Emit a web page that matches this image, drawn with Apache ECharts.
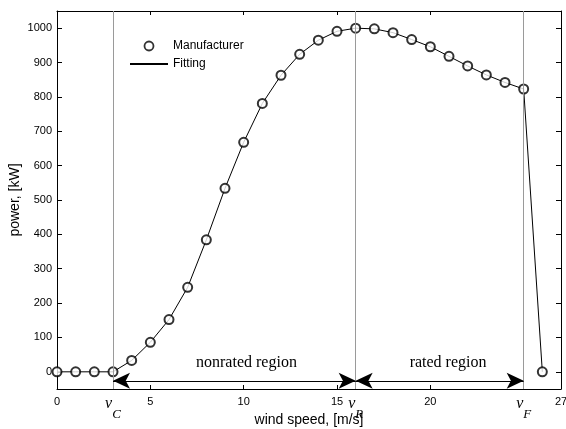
<!DOCTYPE html>
<html>
<head>
<meta charset="utf-8">
<script src="https://cdn.jsdelivr.net/npm/echarts@6/dist/echarts.min.js"></script>
<style>html,body{margin:0;padding:0;background:#fff}#c{width:566px;height:429px}</style>
</head>
<body>
<div id="c"></div>
<script>
const windSpeed = [0,1,2,3,4,5,6,7,8,9,10,11,12,13,14,15,16,17,18,19,20,21,22,23,24,25,26];
const power = [0,0,0,0,33,86,152,246,384,534,668,781,863,924,965,991,1000,998,987,967,946,918,890,864,842,823,0];
const xTicks = [0,3,5,10,15,16,20,25,27];
const xTickLabels = ['0','{v|v}{s|C}','5','10','15','{v|v}{s|R}','20','{v|v}{s|F}','27'];
const yTicks = [0,100,200,300,400,500,600,700,800,900,1000];
const regionLines = [3,16,25];
const regionArrows = [[3,16],[16,25]];
const regionNames = ['nonrated region','rated region'];
const regionLabelX = [10.15,20.95];
const arrowY = -26;
const labelY = 27;

const pts = windSpeed.map((x,i)=>[x,power[i]]);
const sans = 'Liberation Sans, Arial, sans-serif';
const serif = 'Liberation Serif, Times New Roman, serif';

const chart = echarts.init(document.getElementById('c'), null, {renderer:'canvas'});
const option = {
  animation:false,
  backgroundColor:'#fff',
  grid:{left:57,right:5,top:11,bottom:40, containLabel:false, outerBoundsMode:'none'},
  legend:{
    orient:'vertical', left:124, top:35, itemWidth:38, itemHeight:9, itemGap:6,
    textStyle:{fontFamily:sans, fontSize:12, color:'#000'},
    data:[
      {name:'Manufacturer', icon:'circle', itemStyle:{color:'#fff', borderColor:'#000', borderWidth:1.8}},
      {name:'Fitting', itemStyle:{opacity:0}}
    ]
  },
  xAxis:[{
    type:'value', min:0, max:27, position:'bottom',
    name:'wind speed, [m/s]', nameLocation:'middle', nameGap:24, nameMoveOverlap:false,
    nameTextStyle:{fontFamily:sans, fontSize:14, color:'#000'},
    axisLine:{onZero:false, lineStyle:{color:'#000', width:1}},
    axisTick:{inside:true, length:4, customValues:xTicks, lineStyle:{color:'#000'}},
    axisLabel:{
      customValues:xTicks, margin:7, color:'#000', fontFamily:sans, fontSize:11,
      formatter:function(v){ const i = xTicks.indexOf(v); return i>=0 ? xTickLabels[i] : ''; },
      rich:{
        v:{fontFamily:serif, fontStyle:'italic', fontSize:16, color:'#000', lineHeight:25, verticalAlign:'top'},
        s:{fontFamily:serif, fontStyle:'italic', fontSize:13, color:'#000', lineHeight:25, verticalAlign:'bottom'}
      }
    },
    splitLine:{show:false}
  },{
    type:'value', min:0, max:27, position:'top',
    axisLine:{onZero:false, lineStyle:{color:'#000', width:1}},
    axisTick:{inside:true, length:4, customValues:xTicks, lineStyle:{color:'#000'}},
    axisLabel:{show:false},
    splitLine:{show:false}
  }],
  yAxis:[{
    type:'value', min:-50, max:1050, position:'left',
    name:'power, [kW]', nameLocation:'middle', nameGap:35, nameMoveOverlap:false,
    nameTextStyle:{fontFamily:sans, fontSize:14, color:'#000'},
    axisLine:{show:true, onZero:false, lineStyle:{color:'#000', width:1}},
    axisTick:{show:true, inside:true, length:5, customValues:yTicks, lineStyle:{color:'#000'}},
    axisLabel:{customValues:yTicks, margin:5, color:'#000', fontFamily:sans, fontSize:11,
      formatter:function(v){return String(v);}},
    splitLine:{show:false}
  },{
    type:'value', min:-50, max:1050, position:'right',
    axisLine:{show:true, onZero:false, lineStyle:{color:'#000', width:1}},
    axisTick:{show:true, inside:true, length:5, customValues:yTicks, lineStyle:{color:'#000'}},
    axisLabel:{show:false},
    splitLine:{show:false}
  }],
  series:[
    {
      name:'Fitting', type:'line', data:pts, showSymbol:false, symbol:'none',
      lineStyle:{color:'#000', width:1}, itemStyle:{color:'#000'}, z:2,
      markLine:{
        silent:true, symbol:['none','none'], label:{show:false},
        lineStyle:{color:'#9a9a9a', width:1, type:'solid'},
        data: regionLines.map(x=>({xAxis:x}))
      },
      markPoint:{
        silent:true, symbol:'circle', symbolSize:0,
        label:{show:true, position:'inside', fontFamily:serif, fontSize:16, color:'#000',
          formatter:function(p){return p.name;}},
        data: regionNames.map((n,i)=>({name:n, coord:[regionLabelX[i], labelY]}))
      }
    },
    {
      name:'Manufacturer', type:'scatter', data:pts, symbol:'emptyCircle', symbolSize:9,
      itemStyle:{color:'#000', borderColor:'#000', borderWidth:1.8}, z:3,
      markLine:{
        silent:true, symbol:['arrow','arrow'], symbolSize:[12,17], label:{show:false},
        lineStyle:{color:'#000', width:1, type:'solid'}, itemStyle:{color:'#000'},
        data: regionArrows.map(a=>[{coord:[a[0],arrowY]},{coord:[a[1],arrowY]}])
      }
    }
  ]
};
chart.setOption(option);
</script>
</body>
</html>
